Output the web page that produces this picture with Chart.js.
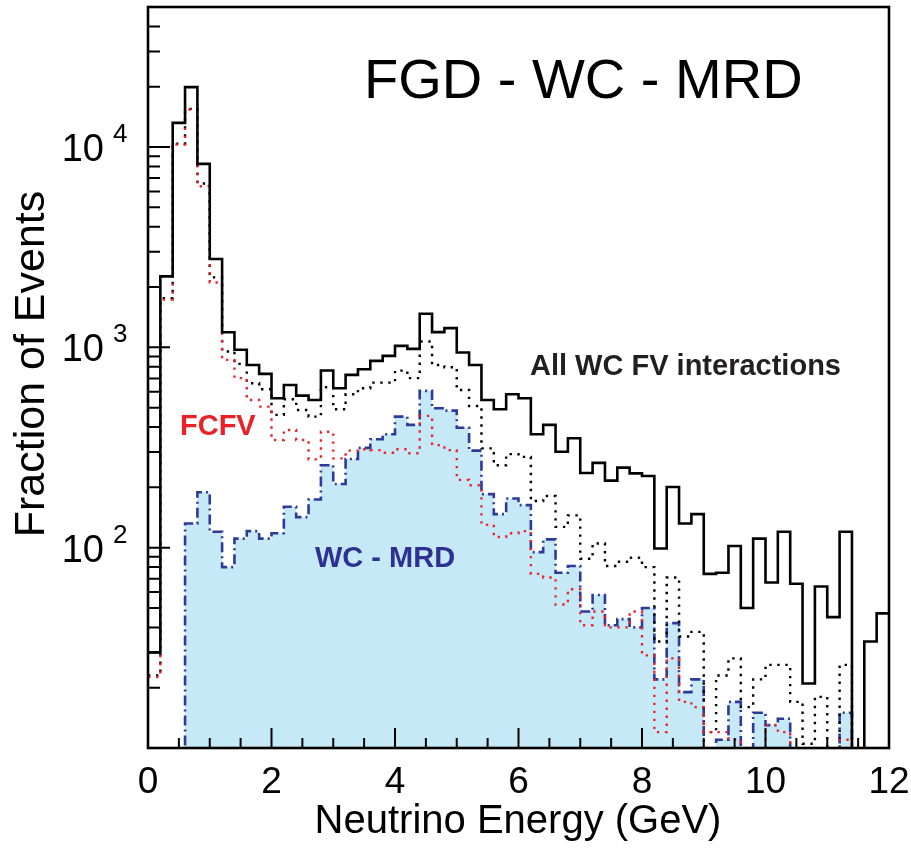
<!DOCTYPE html>
<html>
<head>
<meta charset="utf-8">
<script src="https://cdn.jsdelivr.net/npm/chart.js@4.4.1/dist/chart.umd.min.js"></script>
<style>
  html, body { margin: 0; padding: 0; background: #fff; }
</style>
</head>
<body>
<canvas id="chart" width="911" height="848"></canvas>
<script>
// bin edges in GeV (0.2 GeV bins)
const binEdges = [
  0.0, 0.2, 0.4, 0.6, 0.8, 1.0, 1.2, 1.4, 1.6, 1.8,
  2.0, 2.2, 2.4, 2.6, 2.8, 3.0, 3.2, 3.4, 3.6, 3.8,
  4.0, 4.2, 4.4, 4.6, 4.8, 5.0, 5.2, 5.4, 5.6, 5.8,
  6.0, 6.2, 6.4, 6.6, 6.8, 7.0, 7.2, 7.4, 7.6, 7.8,
  8.0, 8.2, 8.4, 8.6, 8.8, 9.0, 9.2, 9.4, 9.6, 9.8,
  10.0, 10.2, 10.4, 10.6, 10.8, 11.0, 11.2, 11.4, 11.6, 11.8,
  12.0
];

// bin contents (0 = empty bin, below the axis floor)
const allFV = [
  30, 2260, 13200, 19900, 8240, 2760, 1190, 972, 817, 737,
  557, 649, 574, 546, 766, 625, 729, 778, 856, 907,
  1017, 983, 1471, 1191, 1247, 942, 817, 546, 491, 583,
  557, 368, 410, 301, 352, 236, 265, 216, 251, 235,
  228, 99, 201, 132, 147, 74, 75, 102, 50, 111,
  67, 120, 66, 21, 64, 45, 120, 0, 34, 47
];

const fvDotted = [
  23, 1760, 10400, 15500, 6570, 2234, 953, 827, 662, 618,
  460, 551, 487, 451, 632, 491, 583, 625, 667, 667,
  765, 702, 1069, 817, 796, 613, 510, 313, 258, 293,
  284, 171, 181, 127, 145, 88, 105, 81, 85, 89,
  80, 34, 71, 36, 38, 12, 23, 28, 16, 22,
  26, 26, 17, 10.5, 18, 0, 26, 0, 0, 0
];

const fcfv = [
  22.6, 1730, 10300, 15400, 6370, 2109, 866, 702, 546, 506,
  345, 387, 345, 276, 379, 279, 305, 310, 307, 298,
  310, 296, 455, 325, 307, 218, 205, 130, 113, 118,
  121, 74, 71, 52, 62, 41, 48, 40, 40, 48,
  29, 12, 28, 17, 16, 12, 12, 11, 0, 0,
  13, 12, 0, 0, 0, 0, 11, 0, 0, 0
];

const wcMrd = [
  0, 0, 0, 132, 189, 120, 80, 111, 121, 111,
  118, 160, 142, 174, 258, 208, 277, 315, 348, 368,
  451, 410, 606, 497, 483, 397, 305, 185, 147, 176,
  163, 95, 110, 75, 81, 48, 58, 41, 44, 40,
  50, 22, 42, 19, 22, 0, 11, 17, 0, 15,
  13, 14, 0, 0, 0, 0, 15, 0, 0, 0
];

// axis ticks
const xTickLabels = [0, 2, 4, 6, 8, 10, 12];
const xMinorTicks = [0.5, 1, 1.5, 2.5, 3, 3.5, 4.5, 5, 5.5, 6.5, 7, 7.5, 8.5, 9, 9.5, 10.5, 11, 11.5];
const yDecades = [100, 1000, 10000];
const yExponents = ['2', '3', '4'];
const yMinorTicks = [20, 30, 40, 50, 60, 70, 80, 90,
  200, 300, 400, 500, 600, 700, 800, 900,
  2000, 3000, 4000, 5000, 6000, 7000, 8000, 9000,
  20000, 30000, 40000];

// histogram -> step points (left edges + closing point at the last edge)
function steps(values) {
  const pts = values.map((v, i) => ({ x: binEdges[i], y: v > 0 ? v : 1 }));
  pts.push({ x: binEdges[binEdges.length - 1], y: pts[pts.length - 1].y });
  return pts;
}

const FONT = '"Liberation Sans", Arial, Helvetica, sans-serif';

// frame, inward ticks, tick labels, titles and annotations
const frameAndText = {
  id: 'frameAndText',
  afterDraw(chart) {
    const { ctx, chartArea: a, scales: { x, y } } = chart;
    ctx.save();

    ctx.strokeStyle = '#000';
    ctx.lineWidth = 2;
    ctx.beginPath();
    xTickLabels.forEach(v => {
      const px = x.getPixelForValue(v);
      ctx.moveTo(px, a.bottom);
      ctx.lineTo(px, a.bottom - 20);
    });
    xMinorTicks.forEach(v => {
      const px = x.getPixelForValue(v);
      ctx.moveTo(px, a.bottom);
      ctx.lineTo(px, a.bottom - 10);
    });
    yDecades.forEach(v => {
      const py = y.getPixelForValue(v);
      ctx.moveTo(a.left, py);
      ctx.lineTo(a.left + 22, py);
    });
    yMinorTicks.forEach(v => {
      const py = y.getPixelForValue(v);
      ctx.moveTo(a.left, py);
      ctx.lineTo(a.left + 12, py);
    });
    ctx.stroke();

    ctx.lineWidth = 2.6;
    ctx.strokeRect(a.left, a.top, a.right - a.left, a.bottom - a.top);

    ctx.fillStyle = '#000';
    // x tick labels
    ctx.font = '37px ' + FONT;
    ctx.textAlign = 'center';
    ctx.textBaseline = 'alphabetic';
    xTickLabels.forEach(v => {
      ctx.fillText(String(v), x.getPixelForValue(v), a.bottom + 45);
    });

    // y tick labels 10^n
    yDecades.forEach((v, i) => {
      const py = y.getPixelForValue(v);
      ctx.font = '38px ' + FONT;
      ctx.textAlign = 'right';
      ctx.fillText('10', a.left - 44, py + 14);
      ctx.font = '26px ' + FONT;
      ctx.textAlign = 'left';
      ctx.fillText(yExponents[i], a.left - 35, py - 5);
    });

    // axis titles
    ctx.font = '40px ' + FONT;
    ctx.textAlign = 'center';
    ctx.fillText('Neutrino Energy (GeV)', 518, a.bottom + 85);
    ctx.save();
    ctx.translate(44, 364);
    ctx.rotate(-Math.PI / 2);
    ctx.font = '43px ' + FONT;
    ctx.fillText('Fraction of Events', 0, 0);
    ctx.restore();

    // title and labels
    ctx.textAlign = 'left';
    ctx.font = '56px ' + FONT;
    ctx.fillText('FGD - WC - MRD', 364, 98);

    ctx.font = 'bold 29px ' + FONT;
    ctx.fillStyle = '#231f20';
    ctx.fillText('All WC FV interactions', 530, 375);
    ctx.fillStyle = '#ec2027';
    ctx.fillText('FCFV', 180, 435);
    ctx.fillStyle = '#2e3192';
    ctx.fillText('WC - MRD', 315, 567);

    ctx.restore();
  }
};

new Chart(document.getElementById('chart'), {
  type: 'line',
  data: {
    datasets: [
      {
        label: 'All WC FV interactions',
        data: steps(allFV),
        borderColor: '#000',
        borderWidth: 2.6,
        stepped: true,
        fill: false
      },
      {
        label: 'FCFV',
        data: steps(fcfv),
        borderColor: '#e8262d',
        borderWidth: 2.4,
        borderDash: [2.4, 5.6],
        stepped: true,
        fill: false
      },
      {
        label: 'FV (dotted)',
        data: steps(fvDotted),
        borderColor: '#000',
        borderWidth: 2.4,
        borderDash: [2.4, 5.6],
        stepped: true,
        fill: false
      },
      {
        label: 'WC - MRD',
        data: steps(wcMrd),
        borderColor: '#2e3a97',
        backgroundColor: '#c6e9f8',
        borderWidth: 2.6,
        borderDash: [10, 4, 2, 4],
        stepped: true,
        fill: 'start'
      }
    ]
  },
  options: {
    responsive: false,
    animation: false,
    layout: { padding: { left: 148, right: 22, top: 7, bottom: 100 } },
    elements: { point: { radius: 0 } },
    plugins: { legend: { display: false }, tooltip: { enabled: false } },
    scales: {
      x: { type: 'linear', min: 0, max: 12, display: false },
      y: { type: 'logarithmic', min: 10, max: 50000, display: false }
    }
  },
  plugins: [frameAndText]
});
</script>
</body>
</html>
